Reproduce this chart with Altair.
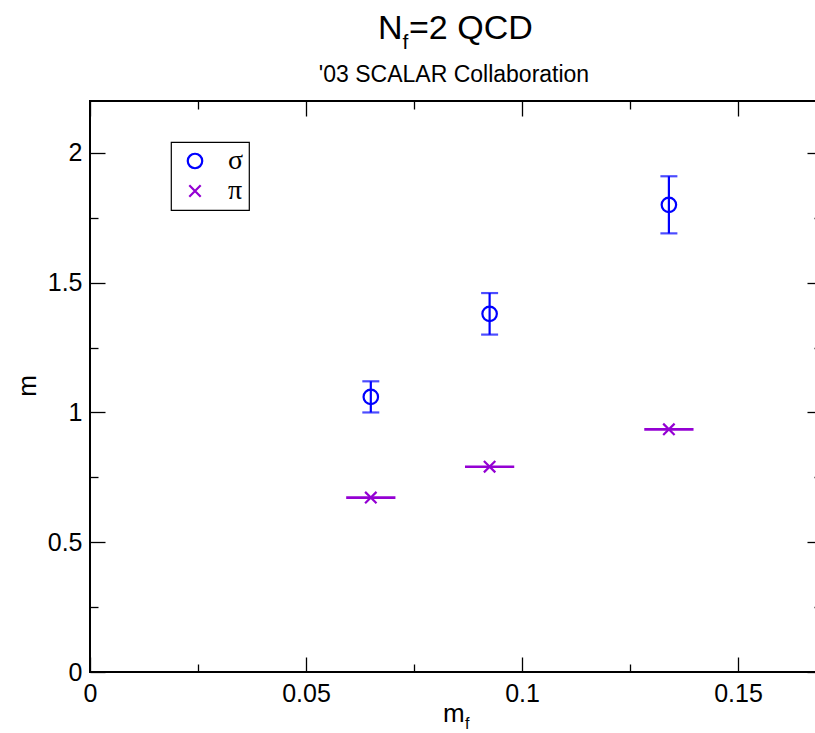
import altair as alt
import pandas as pd

# ---- data ----
sigma_mf = [0.065, 0.0925, 0.134]
sigma_m = [1.06, 1.38, 1.80]
sigma_err = [0.06, 0.08, 0.11]

pi_mf = [0.065, 0.0925, 0.134]
pi_m = [0.672, 0.791, 0.935]
pi_xerr = [0.0057, 0.0057, 0.0057]

x_major = [0, 0.05, 0.1, 0.15]
x_minor = [0.025, 0.075, 0.125]
y_major = [0, 0.5, 1, 1.5, 2]
y_minor = [0.25, 0.75, 1.25, 1.75]

series_names = ["σ", "π"]
series_colors = ["#0000ff", "#9400d3"]
CROSS = "M-1,-1L1,1M-1,1L1,-1"

SANS = "Liberation Sans"
SERIF = "Liberation Serif"
W, H = 732, 571

sig = pd.DataFrame({
    "mf": sigma_mf, "m": sigma_m,
    "lo": [v - e for v, e in zip(sigma_m, sigma_err)],
    "hi": [v + e for v, e in zip(sigma_m, sigma_err)],
    "series": "σ",
})
pid = pd.DataFrame({
    "mf": pi_mf, "m": pi_m,
    "xlo": [v - e for v, e in zip(pi_mf, pi_xerr)],
    "xhi": [v + e for v, e in zip(pi_mf, pi_xerr)],
    "series": "π",
})
pts = pd.concat([sig[["mf", "m", "series"]], pid[["mf", "m", "series"]]], ignore_index=True)

xs = alt.Scale(domain=[0, 0.16944], nice=False, zero=False)
ys = alt.Scale(domain=[0, 2.2], nice=False, zero=False)


def label_axis(orient, vals, fmt, pad):
    return alt.Axis(orient=orient, values=vals, format=fmt, ticks=False, domain=False,
                    grid=False, labelFontSize=25, labelFont=SANS, labelColor="black",
                    labelPadding=pad, labelFlush=False, labelOverlap=False, title=None)


def tick_axis(orient, vals, size):
    return alt.Axis(orient=orient, values=vals, labels=False, domain=False, grid=False,
                    ticks=True, tickSize=size, offset=-size, tickColor="black",
                    tickWidth=1.3, title=None)


# vertical sigma error bars + labelled axes
l1 = alt.Chart(sig).mark_rule(color=series_colors[0], strokeWidth=2.2).encode(
    x=alt.X("mf:Q", scale=xs, axis=label_axis("bottom", x_major, ".2~f", 9)),
    y=alt.Y("lo:Q", scale=ys, axis=label_axis("left", y_major, ".1~f", 8)),
    y2="hi:Q",
)
# caps
l2 = alt.Chart(sig).mark_tick(color=series_colors[0], orient="horizontal", size=17, thickness=2.2).encode(
    x=alt.X("mf:Q", scale=xs, axis=tick_axis("bottom", x_major, 15)),
    y=alt.Y("lo:Q", scale=ys, axis=tick_axis("left", y_major, 15)),
)
l3 = alt.Chart(sig).mark_tick(color=series_colors[0], orient="horizontal", size=17, thickness=2.2).encode(
    x=alt.X("mf:Q", scale=xs, axis=tick_axis("bottom", x_minor, 8)),
    y=alt.Y("hi:Q", scale=ys, axis=tick_axis("left", y_minor, 8)),
)
# horizontal pi bars
l4 = alt.Chart(pid).mark_rule(color=series_colors[1], strokeWidth=2.6).encode(
    x=alt.X("xlo:Q", scale=xs, axis=tick_axis("top", x_major, 15)),
    x2="xhi:Q",
    y=alt.Y("m:Q", scale=ys, axis=tick_axis("right", y_major, 15)),
)
# points with legend
leg = alt.Legend(title=None)
l5 = alt.Chart(pts).mark_point(filled=False, strokeWidth=2.2, opacity=1).encode(
    x=alt.X("mf:Q", scale=xs, axis=tick_axis("top", x_minor, 8)),
    y=alt.Y("m:Q", scale=ys, axis=tick_axis("right", y_minor, 8)),
    color=alt.Color("series:N", scale=alt.Scale(domain=series_names, range=series_colors),
                    legend=leg),
    shape=alt.Shape("series:N", scale=alt.Scale(domain=series_names, range=["circle", CROSS]),
                    legend=leg),
    size=alt.Size("series:N", scale=alt.Scale(domain=series_names, range=[210, 130]), legend=None),
)


def txt(t, x, y, size, align="left", font=SANS, angle=0, baseline="alphabetic"):
    return alt.Chart(pd.DataFrame({"t": [t]})).mark_text(
        fontSize=size, font=font, align=align, baseline=baseline, angle=angle, color="black"
    ).encode(text="t:N", x=alt.value(x), y=alt.value(y))


title_parts = (
    txt("N", 288, -62, 34)
    + txt("f", 312.5, -52, 21)
    + txt("=2 QCD", 319, -62, 34)
    + txt("'03 SCALAR Collaboration", 364, -19, 23, align="center")
    + txt("m", 353, 621, 26)
    + txt("f", 375, 628, 16)
    + txt("m", -62, 285, 26, align="center", angle=270, baseline="middle")
)

chart = alt.layer(l1, l2, l3, l4, l5, title_parts).resolve_axis(
    x="independent", y="independent"
).properties(
    width=W, height=H,
    autosize=alt.AutoSizeParams(type="none"),
    padding={"left": 90, "top": 101, "right": -7, "bottom": 61},
    background="white",
).configure_view(
    stroke="black", strokeWidth=2
).configure_legend(
    orient="none", legendX=81, legendY=41,
    strokeColor="black", strokeWidth=1.2, fillColor="white",
    padding=5, symbolOffset=5, labelOffset=19, rowPadding=2,
    labelFont=SERIF, labelFontSize=28, labelColor="black",
    symbolSize=190, symbolStrokeWidth=2.2,
)

chart.save("out.html", embed_options={"renderer": "svg", "actions": False})
